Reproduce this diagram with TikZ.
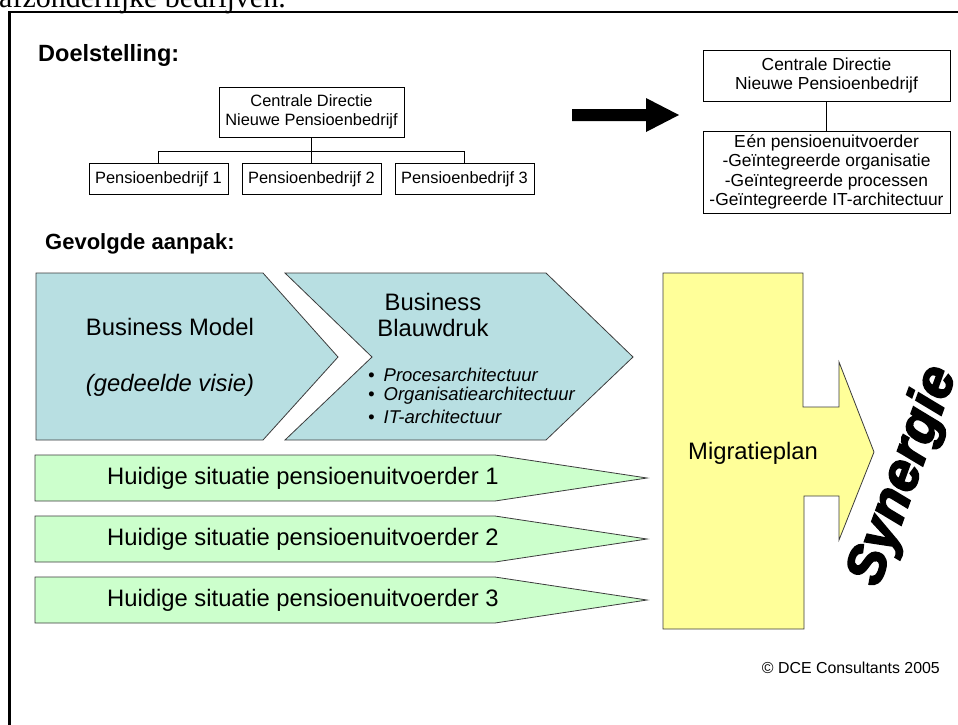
\documentclass[tikz,border=0pt]{standalone}
\usepackage{fontspec}
\setmainfont{Liberation Sans}
\newfontfamily\serifbody{Liberation Serif}
\newfontfamily\heavyfont[FakeBold=3.5]{Liberation Sans}
\usetikzlibrary{calc}
\definecolor{chevblue}{RGB}{184,223,226}
\definecolor{pastgreen}{RGB}{204,255,204}
\definecolor{planyellow}{RGB}{255,255,153}
\definecolor{edgegrey}{RGB}{60,60,60}
\newcommand{\fs}[2]{\fontsize{#1}{#2}\selectfont}
\tikzset{
  orgbox/.style={draw=black, line width=1pt, fill=white, inner sep=0pt, align=center, font=\fs{16.4}{18.5}},
  orgline/.style={draw=black, line width=1pt},
  heading/.style={anchor=base west, inner sep=0pt, font=\bfseries\fs{22}{24}},
  chevron/.style={draw=edgegrey, line width=0.8pt, fill=chevblue},
  pastarrow/.style={draw=edgegrey, line width=0.8pt, fill=pastgreen},
  planshape/.style={draw=edgegrey, line width=0.8pt, fill=planyellow},
  bigtext/.style={inner sep=0pt, font=\fs{23.8}{26}},
  bullettext/.style={anchor=west, inner sep=0pt, font=\itshape\fs{18.5}{21}},
}
\begin{document}
\begin{tikzpicture}[x=1pt, y=-1pt]
\useasboundingbox (0,0) rectangle (958,724);
\begin{scope}
\clip (0,0) rectangle (958,724);
% running text above the frame
\node[anchor=base west, inner sep=0pt, font=\serifbody\fs{30}{32}] (bodytext) at (-1,7) {afzonderlijke bedrijven.};
% frame
\draw[line width=2.5pt] (9.5,740) -- (9.5,12) -- (970,12);
\end{scope}

% ---------- Doelstelling ----------
\node[heading, font=\bfseries\fs{23.5}{26}] (doel) at (38,61) {Doelstelling:};

\node[orgbox, minimum width=185, minimum height=50] (cd) at (311.5,112) {Centrale Directie\\Nieuwe Pensioenbedrijf};
\node[orgbox, minimum width=139, minimum height=31] (p1) at (158.5,179) {Pensioenbedrijf 1};
\node[orgbox, minimum width=139, minimum height=31] (p2) at (311.5,179) {Pensioenbedrijf 2};
\node[orgbox, minimum width=139, minimum height=31] (p3) at (464.5,179) {Pensioenbedrijf 3};
\coordinate (bus) at (311.5,151.5);
\draw[orgline] (cd.south) -- (p2.north);
\draw[orgline] (p1.north) |- (bus) -| (p3.north);

% transition arrow
\fill[black] (572,109) -- (646,109) -- (646,98) -- (679,115) -- (646,132) -- (646,121) -- (572,121) -- cycle;

\node[orgbox, minimum width=247, minimum height=51, font=\fs{17.4}{19.5}] (ncd) at (826.5,75.5) {Centrale Directie\\Nieuwe Pensioenbedrijf};
\node[orgbox, minimum width=247, minimum height=82, font=\fs{17.4}{19.5}] (uitv) at (826.5,172) {E\kern1pt én pensioenuitvoerder\\-Geïntegreerde organisatie\\-Geïntegreerde processen\\-Geïntegreerde IT-architectuur};
\draw[orgline] (ncd.south) -- (uitv.north);

% ---------- Gevolgde aanpak ----------
\node[heading] (aanpak) at (45,249) {Gevolgde aanpak:};

% Business Model chevron
\draw[chevron] (36,273) -- (263,273) -- (338,357) -- (263,440) -- (36,440) -- cycle;
\node[bigtext] (bm) at (170,327) {Business Model};
\node[bigtext, font=\itshape\fs{23.8}{26}] (visie) at (170,385) {(gedeelde visie)};

% Business Blauwdruk chevron
\draw[chevron] (285,273) -- (546,273) -- (633,357) -- (546,440) -- (285,440) -- (372,357) -- cycle;
\node[bigtext, align=center, font=\fs{23.8}{25.5}] (bb) at (433,315) {Business\\Blauwdruk};
\node[bullettext] (b1) at (368,375) {\textbullet\hspace{9pt}Procesarchitectuur};
\node[bullettext] (b2) at (368,396) {\textbullet\hspace{9pt}Organisatiearchitectuur};
\node[bullettext] (b3) at (368,417) {\textbullet\hspace{9pt}IT-architectuur};

% current situations
\foreach \i/\yt in {1/455, 2/516, 3/577}{
  \draw[pastarrow] (35,\yt) -- (495,\yt) -- (647,\yt+23) -- (495,\yt+46) -- (35,\yt+46) -- cycle;
  \node[bigtext] (huidig\i) at (303,\yt+23) {Huidige situatie pensioenuitvoerder \i};
}

% migration plan
\draw[planshape] (663,273) -- (803,273) -- (803,407) -- (839,407) -- (839,362) -- (874,452)
  -- (839,540) -- (839,496) -- (804,496) -- (804,629) -- (663,629) -- cycle;
\node[bigtext] (plan) at (753,453) {Migratieplan};

% synergy
\node[inner sep=0pt, rotate=70, font=\heavyfont\bfseries\itshape\fs{54}{56}] (syn) at (904,476) {Synergie};

% copyright
\node[anchor=base east, inner sep=0pt, font=\fs{15.9}{18}] (copy) at (940,673) {© DCE Consultants 2005};
\end{tikzpicture}
\end{document}
